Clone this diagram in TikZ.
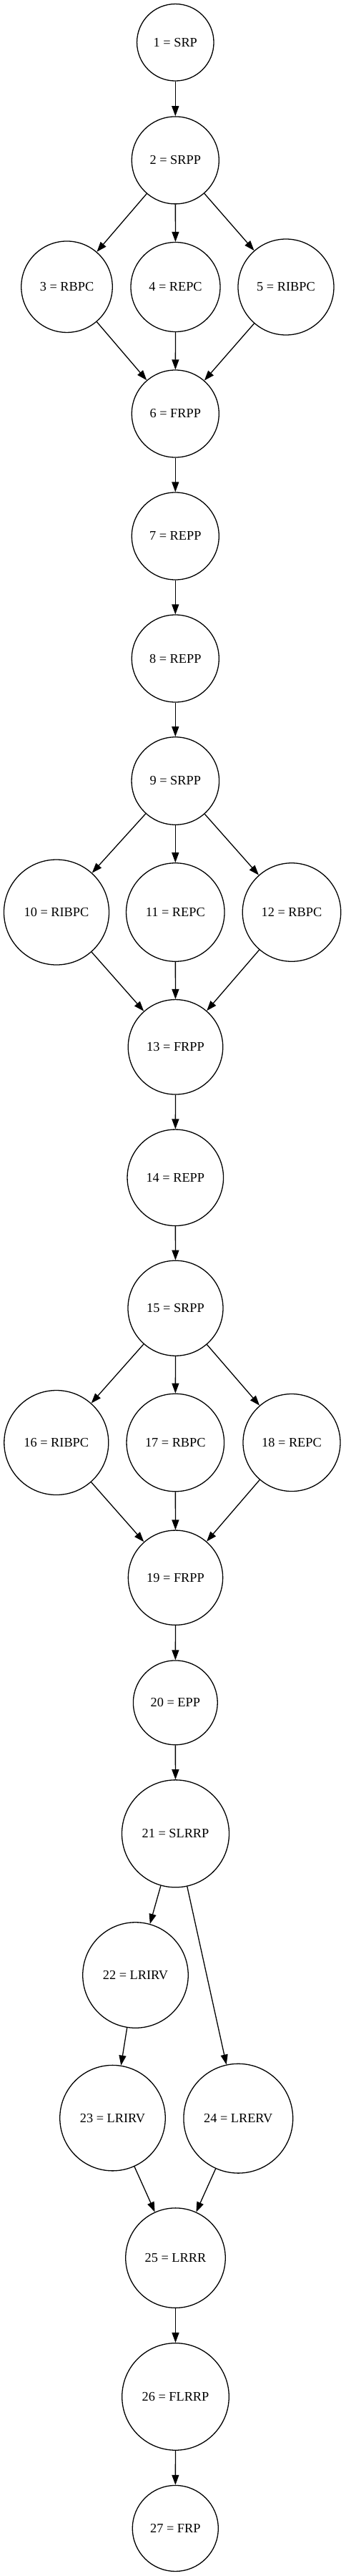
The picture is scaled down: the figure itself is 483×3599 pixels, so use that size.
\documentclass[tikz,border=0pt]{standalone}
\usepackage{fontspec}
\setmainfont{Liberation Serif}
\usetikzlibrary{arrows.meta}

\begin{document}
\begin{tikzpicture}[x=1pt, y=-1pt, line width=1.3pt,
  state/.style={draw, circle, inner sep=0pt, font=\fontsize{18.3}{22}\selectfont},
  >={Triangle[length=14pt, width=10pt]}]
\useasboundingbox (0,0) rectangle (483,3599);
\node[state, minimum size=107.5pt] (n1)  at (245.3,59.3)   {1 = SRP};
\node[state, minimum size=122pt]   (n2)  at (245.3,223.9)  {2 = SRPP};
\node[state, minimum size=127.5pt] (n3)  at (93.5,400.7)   {3 = RBPC};
\node[state, minimum size=125pt]   (n4)  at (245.5,401)    {4 = REPC};
\node[state, minimum size=134pt]   (n5)  at (400,401)      {5 = RIBPC};
\node[state, minimum size=122pt]   (n6)  at (245.3,578)    {6 = FRPP};
\node[state, minimum size=122pt]   (n7)  at (245.3,749)    {7 = REPP};
\node[state, minimum size=122pt]   (n8)  at (245.3,920)    {8 = REPP};
\node[state, minimum size=122.5pt] (n9)  at (245.3,1091)   {9 = SRPP};
\node[state, minimum size=147pt]   (n10) at (79,1274.5)    {10 = RIBPC};
\node[state, minimum size=137.5pt] (n11) at (245.3,1274.5) {11 = REPC};
\node[state, minimum size=137.5pt] (n12) at (408,1274.5)   {12 = RBPC};
\node[state, minimum size=132.5pt] (n13) at (245.5,1462.8) {13 = FRPP};
\node[state, minimum size=134.5pt] (n14) at (245.3,1645.3) {14 = REPP};
\node[state, minimum size=133pt]   (n15) at (245.5,1827.7) {15 = SRPP};
\node[state, minimum size=146pt]   (n16) at (78.8,2015.5)  {16 = RIBPC};
\node[state, minimum size=136.5pt] (n17) at (245.3,2015.5) {17 = RBPC};
\node[state, minimum size=136pt]   (n18) at (408,2015.5)   {18 = REPC};
\node[state, minimum size=132.3pt] (n19) at (245.5,2204.2) {19 = FRPP};
\node[state, minimum size=117.8pt] (n20) at (245.3,2378.8) {20 = EPP};
\node[state, minimum size=150pt]   (n21) at (245.5,2561.8) {21 = SLRRP};
\node[state, minimum size=147.5pt] (n22) at (189.5,2759.5) {22 = LRIRV};
\node[state, minimum size=147.5pt] (n23) at (157.5,2959.1) {23 = LRIRV};
\node[state, minimum size=152.8pt] (n24) at (333.3,2959.7) {24 = LRERV};
\node[state, minimum size=139.5pt] (n25) at (245.5,3154.6) {25 = LRRR};
\node[state, minimum size=149.6pt] (n26) at (245.5,3348.4) {26 = FLRRP};
\node[state, minimum size=120pt]   (n27) at (245.3,3532.4) {27 = FRP};

\draw[->] (n1) -- (n2);
\draw[->] (n2) -- (n3);
\draw[->] (n2) -- (n4);
\draw[->] (n2) -- (n5);
\draw[->] (n3) -- (n6);
\draw[->] (n4) -- (n6);
\draw[->] (n5) -- (n6);
\draw[->] (n6) -- (n7);
\draw[->] (n7) -- (n8);
\draw[->] (n8) -- (n9);
\draw[->] (n9) -- (n10);
\draw[->] (n9) -- (n11);
\draw[->] (n9) -- (n12);
\draw[->] (n10) -- (n13);
\draw[->] (n11) -- (n13);
\draw[->] (n12) -- (n13);
\draw[->] (n13) -- (n14);
\draw[->] (n14) -- (n15);
\draw[->] (n15) -- (n16);
\draw[->] (n15) -- (n17);
\draw[->] (n15) -- (n18);
\draw[->] (n16) -- (n19);
\draw[->] (n17) -- (n19);
\draw[->] (n18) -- (n19);
\draw[->] (n19) -- (n20);
\draw[->] (n20) -- (n21);
\draw[->] (n21) -- (n22);
\draw[->] (n21) -- (n24);
\draw[->] (n22) -- (n23);
\draw[->] (n23) -- (n25);
\draw[->] (n24) -- (n25);
\draw[->] (n25) -- (n26);
\draw[->] (n26) -- (n27);
\end{tikzpicture}
\end{document}
